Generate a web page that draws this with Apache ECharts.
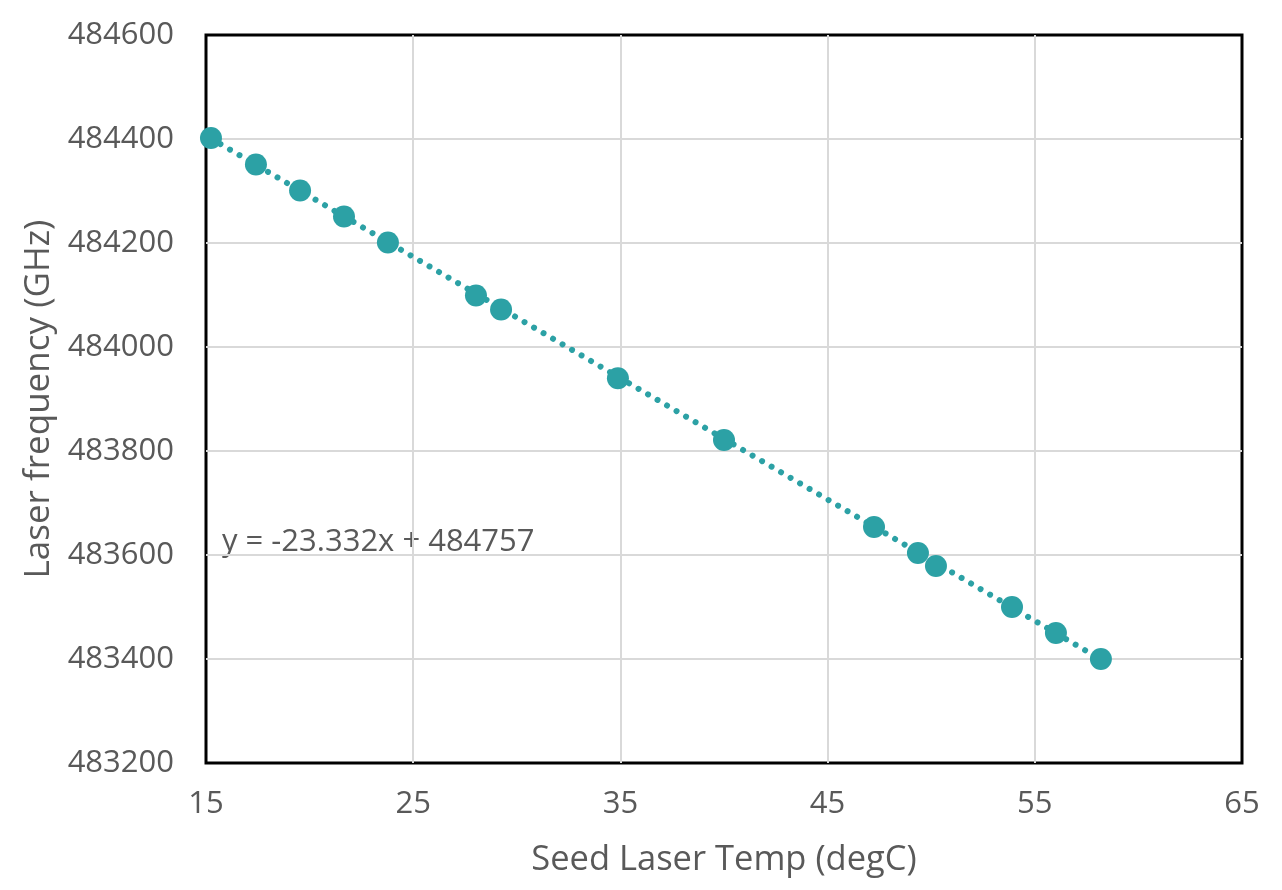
<!DOCTYPE html>
<html>
<head>
<meta charset="utf-8">
<script src="https://cdn.jsdelivr.net/npm/echarts@6/dist/echarts.min.js"></script>
<style>
    html, body { margin: 0; padding: 0; background: #fff; }
    #chart { width: 1282px; height: 890px; }
</style>
</head>
<body>
<div id="chart"></div>
<script>
// Измеренные точки: температура затравочного лазера и частота
const seedTemps = [15.24, 17.41, 19.54, 21.66, 23.78, 28.03, 29.24, 34.88, 40.0, 47.24, 49.36, 50.23, 53.9, 56.02, 58.19];
const laserFreqs = [484402, 484351, 484301, 484251, 484201, 484099, 484072, 483940, 483821, 483654, 483604, 483579, 483500, 483450, 483400];

// Концы линии тренда (как на картинке)
const trendX = [15.24, 58.19];
const trendY = [484401, 483399];

const equationText = 'y = -23.332x + 484757';

const textColor = '#595959';
const pointColor = '#2ca1a5';
const fontFamily = '"Open Sans", "Liberation Sans", Arial, sans-serif';

const chart = echarts.init(document.getElementById('chart'), null, { renderer: 'canvas' });

const option = {
    backgroundColor: '#fff',
    animation: false,
    grid: {
        left: 206,
        right: 40,
        top: 35,
        bottom: 127,
        show: true,
        borderColor: '#000',
        borderWidth: 3,
        backgroundColor: 'transparent'
    },
    xAxis: {
        type: 'value',
        min: 15,
        max: 65,
        interval: 10,
        name: 'Seed Laser Temp (degC)',
        nameLocation: 'middle',
        nameGap: 80,
        nameTextStyle: { color: textColor, fontSize: 34.5, fontFamily: fontFamily },
        axisLine: { show: false },
        axisTick: { show: false },
        axisLabel: { color: textColor, fontSize: 31, fontFamily: fontFamily, margin: 26 },
        splitLine: {
            show: true,
            showMinLine: false,
            showMaxLine: false,
            lineStyle: { color: '#d9d9d9', width: 2 }
        }
    },
    yAxis: {
        type: 'value',
        min: 483200,
        max: 484600,
        interval: 200,
        name: 'Laser frequency (GHz)',
        nameLocation: 'middle',
        nameGap: 146,
        nameTextStyle: { color: textColor, fontSize: 35, fontFamily: fontFamily },
        axisLine: { show: false },
        axisTick: { show: false },
        axisLabel: {
            color: textColor,
            fontSize: 31,
            fontFamily: fontFamily,
            margin: 32,
            formatter: function (value) {
                return String(value);
            }
        },
        splitLine: {
            show: true,
            showMinLine: false,
            showMaxLine: false,
            lineStyle: { color: '#d9d9d9', width: 2 }
        }
    },
    graphic: [
        {
            type: 'text',
            left: 222,
            top: 527,
            style: {
                text: equationText,
                fill: textColor,
                fontSize: 31,
                fontFamily: fontFamily
            }
        }
    ],
    series: [
        {
            name: 'Trend',
            type: 'line',
            data: trendX.map(function (x, i) { return [x, trendY[i]]; }),
            showSymbol: false,
            symbol: 'none',
            z: 2,
            lineStyle: {
                color: pointColor,
                width: 6,
                type: [0.01, 11],
                cap: 'round'
            }
        },
        {
            name: 'Laser frequency',
            type: 'scatter',
            data: seedTemps.map(function (x, i) { return [x, laserFreqs[i]]; }),
            symbolSize: 22,
            z: 3,
            itemStyle: { color: pointColor, opacity: 1 }
        }
    ]
};

chart.setOption(option);
</script>
</body>
</html>
